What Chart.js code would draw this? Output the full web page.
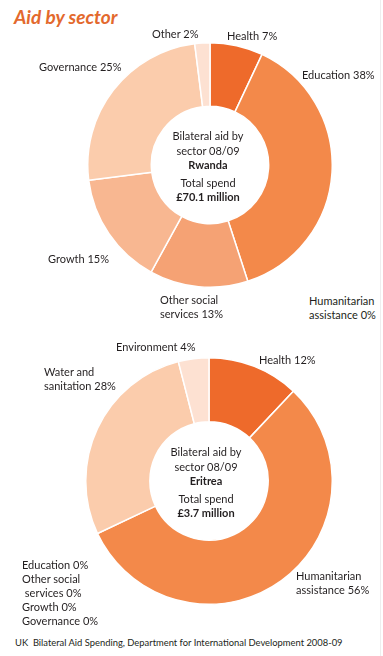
<!DOCTYPE html>
<html><head><meta charset="utf-8">
<script src="https://cdn.jsdelivr.net/npm/chart.js@4/dist/chart.umd.min.js"></script>
<style>
html,body{margin:0;padding:0;background:#fff;}
body{width:383px;height:656px;position:relative;overflow:hidden;font-family:Lato,"Open Sans",sans-serif;color:#231f20;}
.t{position:absolute;font-size:11px;line-height:14px;white-space:pre;}
.box{position:absolute;}
.center{position:absolute;text-align:center;font-size:11px;line-height:14.5px;width:120px;}
.center b{font-weight:700;}
#title{position:absolute;left:14px;top:5px;font-size:19px;font-weight:700;font-style:italic;color:#E3692D;font-family:Lato,"Open Sans",sans-serif;}
#foot{position:absolute;left:15px;top:637px;font-size:9.4px;}
#edge{position:absolute;left:380px;top:0;width:1px;height:656px;background:#eeeeee;}
</style></head>
<body>
<div id="title">Aid by sector</div>
<div id="edge"></div>
<div class="box" style="left:87px;top:42px;width:246px;height:246px;"><canvas id="c1"></canvas></div>
<div class="box" style="left:85px;top:357px;width:248px;height:248px;"><canvas id="c2"></canvas></div>
<div class="center" style="left:148px;top:129px;">Bilateral aid by<br>sector 08/09<br><b>Rwanda</b><br><span style="display:inline-block;margin-top:3px">Total spend</span><br><b>£70.1 million</b></div>
<div class="center" style="left:146px;top:445px;">Bilateral aid by<br>sector 08/09<br><b>Eritrea</b><br><span style="display:inline-block;margin-top:3px">Total spend</span><br><b>£3.7 million</b></div>
<div id="foot">UK&nbsp; Bilateral Aid Spending, Department for International Development 2008-09</div>
<script>
// ---- data ----
const rwandaCategories = ['Health','Education','Humanitarian\nassistance','Other social\nservices','Growth','Governance','Other'];
const rwandaValues = [7,38,0,13,15,25,2];
const eritreaCategories = ['Health','Humanitarian\nassistance','Education','Other social\n services','Growth','Governance','Water and\nsanitation','Environment'];
const eritreaValues = [12,56,0,0,0,0,28,4];

// ---- styles ----
const rwandaColors = ['#EE6A2B','#F3894A','#F3894A','#F5A274','#F8B791','#FBCCAC','#FDE1D2'];
const eritreaColors = ['#EE6A2B','#F3894A','#F3894A','#F5A274','#F8B791','#FBCCAC','#FBCCAC','#FDE1D2'];

// label layout: [index, left, top]
const rwandaLabelPos = [[0,227,29],[1,302,68],[2,309,294],[3,160,293],[4,48,252],[5,39,60],[6,152,27]];
const eritreaLabelPos = [[0,259,353],[1,296,569],[6,44,365],[7,116,340]];
const eritreaZeroStack = {left:22, top:558, idx:[2,3,4,5]};

function addLabel(text,left,top){
  const d=document.createElement('div');d.className='t';d.textContent=text;
  d.style.left=left+'px';d.style.top=top+'px';document.body.appendChild(d);
}
function fmt(cats,vals,i){return cats[i]+' '+vals[i]+'%';}
rwandaLabelPos.forEach(([i,l,t])=>addLabel(fmt(rwandaCategories,rwandaValues,i),l,t));
eritreaLabelPos.forEach(([i,l,t])=>addLabel(fmt(eritreaCategories,eritreaValues,i),l,t));
addLabel(eritreaZeroStack.idx.map(i=>fmt(eritreaCategories,eritreaValues,i)).join('\n'),eritreaZeroStack.left,eritreaZeroStack.top);

function donut(id,cats,vals,colors){
  new Chart(document.getElementById(id),{
    type:'doughnut',
    data:{labels:cats,datasets:[{data:vals,backgroundColor:colors,borderColor:'#ffffff',borderWidth:1.5,hoverOffset:0}]},
    options:{responsive:true,maintainAspectRatio:false,animation:false,cutout:'48%',
      layout:{padding:0},
      plugins:{legend:{display:false},tooltip:{enabled:false}}}
  });
}
donut('c1',rwandaCategories,rwandaValues,rwandaColors);
donut('c2',eritreaCategories,eritreaValues,eritreaColors);
</script>
</body></html>
